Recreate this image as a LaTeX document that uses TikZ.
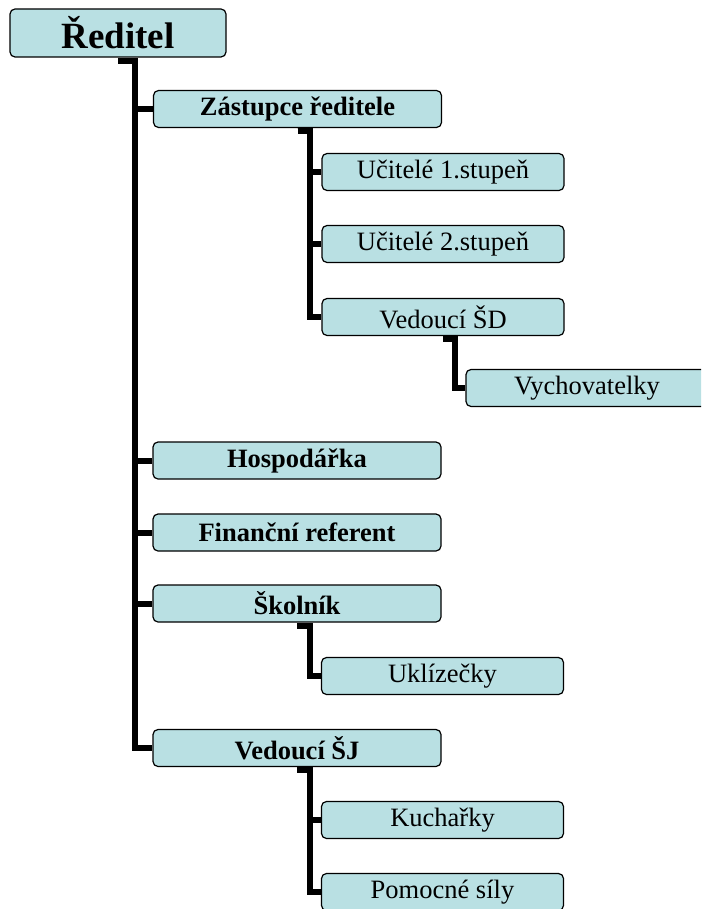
\documentclass[tikz,border=0pt]{standalone}
\usepackage{fontspec}
\setmainfont{Liberation Serif}
\definecolor{boxfill}{HTML}{B9E0E3}
\begin{document}
\begin{tikzpicture}[x=1pt,y=-1pt,
  box/.style={draw=black,line width=1.2pt,fill=boxfill,rounded corners=5pt,
    inner sep=0pt,minimum width=242pt,minimum height=37pt,
    font=\fontsize{26.5}{30}\selectfont},
  midbox/.style={box,minimum width=288pt,font=\fontsize{26.5}{30}\selectfont\bfseries},
  topbox/.style={box,minimum width=216pt,minimum height=48pt,font=\fontsize{37}{42}\selectfont\bfseries},
  conn/.style={draw=black,line width=6pt}]
\useasboundingbox (0,0) rectangle (701,909);
\clip (0,0) rectangle (701,909);
\node[topbox] (R) at (118,33) {Ředitel};
\node[midbox] (Z) at (297.5,109) {Zástupce ředitele};
\node[box] (U1) at (443,172) {Učitelé 1.stupeň};
\node[box] (U2) at (443,244) {Učitelé 2.stupeň};
\node[box] (SD) at (443,317) {Vedoucí ŠD};
\node[box] (V) at (587,388) {Vychovatelky};
\node[midbox] (H) at (297,460.5) {Hospodářka};
\node[midbox] (F) at (297,532.5) {Finanční referent};
\node[midbox] (S) at (297,603.5) {Školník};
\node[box] (UK) at (442.5,676) {Uklízečky};
\node[midbox] (SJ) at (297,748) {Vedoucí ŠJ};
\node[box] (K) at (442.5,820) {Kuchařky};
\node[box] (P) at (442.5,892) {Pomocné síly};
\coordinate (t0) at (135,0);
\coordinate (t1) at (310,0);
\coordinate (t2) at (455,0);
\foreach \c in {Z,H,F,S,SJ}
  \draw[conn] ([yshift=-3pt]R.south) -- ([yshift=-3pt]R.south -| t0) |- (\c.west);
\foreach \c in {U1,U2,SD}
  \draw[conn] ([yshift=-3pt]Z.south) -- ([yshift=-3pt]Z.south -| t1) |- (\c.west);
\draw[conn] ([yshift=-3pt]SD.south) -- ([yshift=-3pt]SD.south -| t2) |- (V.west);
\draw[conn] ([yshift=-3pt]S.south) -- ([yshift=-3pt]S.south -| t1) |- (UK.west);
\foreach \c in {K,P}
  \draw[conn] ([yshift=-3pt]SJ.south) -- ([yshift=-3pt]SJ.south -| t1) |- (\c.west);
\end{tikzpicture}
\end{document}
